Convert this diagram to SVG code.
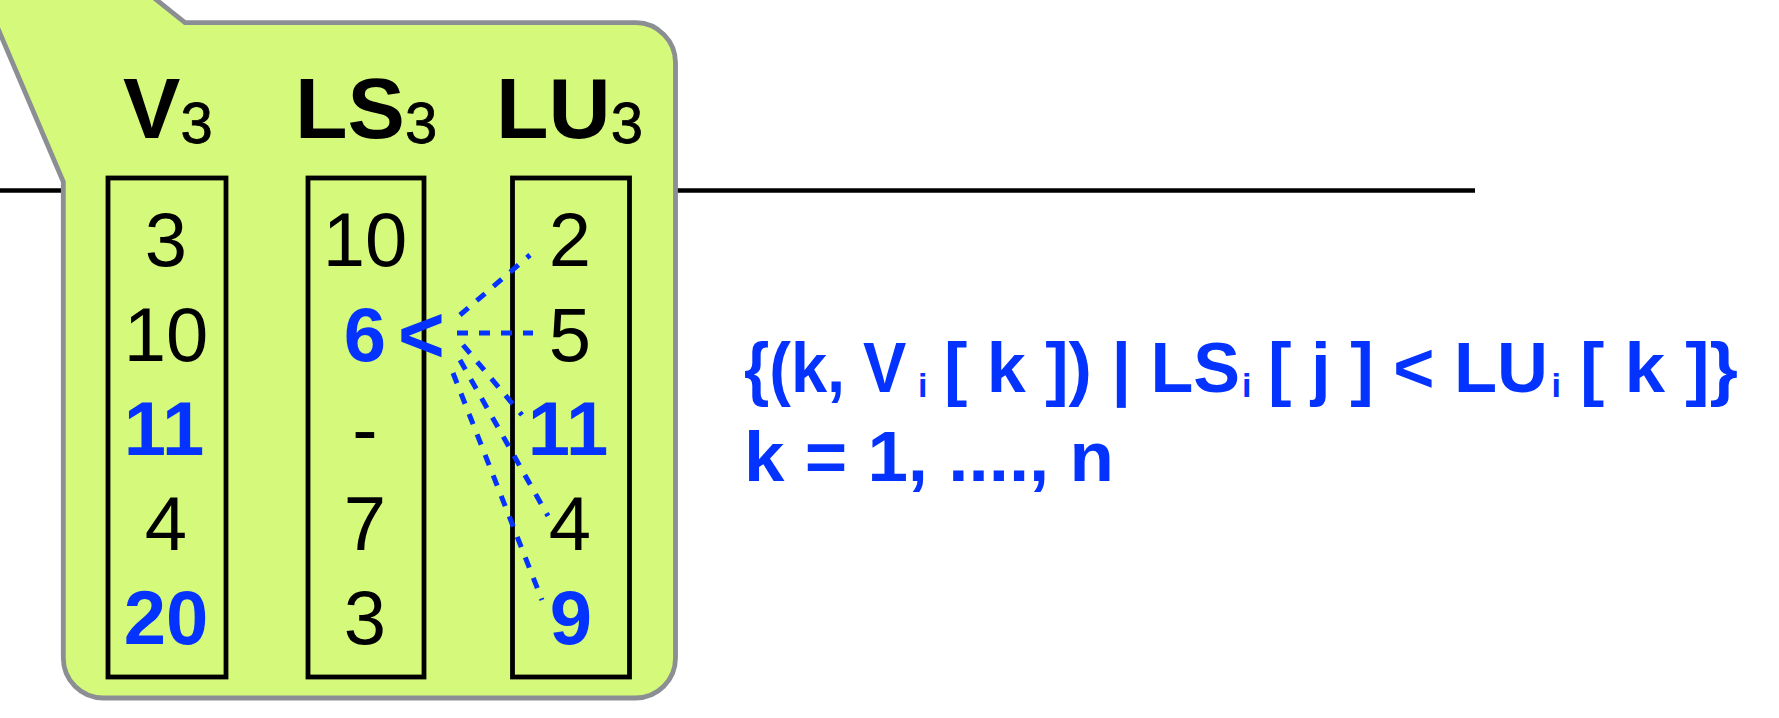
<svg xmlns="http://www.w3.org/2000/svg" width="1779" height="718" viewBox="0 0 1779 718">
<style>
.hdr{font-family:"Liberation Sans",Arial,sans-serif;font-weight:700;font-size:86px;fill:#000}
.sub{font-size:58px;font-weight:400;stroke:#000;stroke-width:0.8}
.num{font-family:"Liberation Sans",Arial,sans-serif;font-size:76px;fill:#000;text-anchor:middle}
.bl{fill:#0433ff;font-weight:700}
.box{fill:none;stroke:#000;stroke-width:4.8}
.dash{stroke:#0433ff;stroke-width:5;stroke-dasharray:11 11;fill:none}
.f{font-family:"Liberation Sans",Arial,sans-serif;font-weight:700;font-size:71px;fill:#0433ff}
.fs{font-family:"Liberation Sans",Arial,sans-serif;font-weight:700;font-size:34px;fill:#0433ff}
</style>
<rect width="1779" height="718" fill="#fff"/>
<line x1="0" y1="190.5" x2="1475" y2="190.5" stroke="#000" stroke-width="4.5"/>
<g id="callout">
<path d="M -103,-208 L 185,22.7 H 636 A 40 40 0 0 1 675.5,62.7 V 658 A 40 40 0 0 1 635.5,698 H 103.3 A 40 40 0 0 1 63.3,658 V 181.7 Z" fill="#d5fa7b" stroke="#8b8e92" stroke-width="4.8"/>
</g>
<g id="col-V3">
<text class="hdr" x="123" y="138">V<tspan class="sub" dy="5">3</tspan></text>
<rect class="box" x="108" y="178" width="118" height="499"/>
<text class="num" x="166" y="266">3</text>
<text class="num" x="166" y="360.5">10</text>
<text class="num bl" x="164" y="455">11</text>
<text class="num" x="166" y="549.5">4</text>
<text class="num bl" x="166" y="644">20</text>
</g>
<g id="col-LS3">
<text class="hdr" x="295" y="138">LS<tspan class="sub" dy="5">3</tspan></text>
<rect class="box" x="308" y="178" width="116" height="499"/>
<text class="num" x="365" y="266">10</text>
<text class="num" x="365" y="455">-</text>
<text class="num" x="365" y="549.5">7</text>
<text class="num" x="365" y="644">3</text>
</g>
<g id="col-LU3">
<text class="hdr" x="496" y="138">LU<tspan class="sub" dy="5">3</tspan></text>
<rect class="box" x="512.5" y="178" width="117" height="499"/>
<text class="num" x="570" y="266">2</text>
<text class="num" x="570" y="360.5">5</text>
<text class="num bl" x="568" y="455">11</text>
<text class="num" x="570" y="549.5">4</text>
<text class="num bl" x="571" y="644">9</text>
</g>
<g id="connectors">
<line class="dash" x1="460" y1="315" x2="530" y2="255"/>
<line class="dash" x1="457" y1="333" x2="533" y2="333"/>
<line class="dash" x1="463" y1="345" x2="522" y2="415"/>
<line class="dash" x1="460" y1="360" x2="548" y2="516"/>
<line class="dash" x1="453" y1="373" x2="542" y2="600"/>
</g>
<g id="pivot">
<text class="num bl" x="365" y="360.5">6</text>
<text class="num bl" x="398" y="362" style="text-anchor:start;font-size:80px">&lt;</text>
</g>
<g id="formula">
<text class="f" transform="translate(744,392) scale(0.915,1)" x="0" y="0">{(k, V</text>
<text class="fs" x="918" y="397">i</text>
<text class="f" x="944" y="392" textLength="296" lengthAdjust="spacingAndGlyphs">[ k ]) | LS</text>
<text class="fs" x="1242" y="397">i</text>
<text class="f" x="1268" y="392" textLength="280" lengthAdjust="spacingAndGlyphs">[ j ] &lt; LU</text>
<text class="fs" x="1551.5" y="397">i</text>
<text class="f" x="1580" y="392" textLength="158" lengthAdjust="spacingAndGlyphs">[ k ]}</text>
<text class="f" x="744" y="481" textLength="370" lengthAdjust="spacingAndGlyphs">k = 1, ...., n</text>
</g>
</svg>
